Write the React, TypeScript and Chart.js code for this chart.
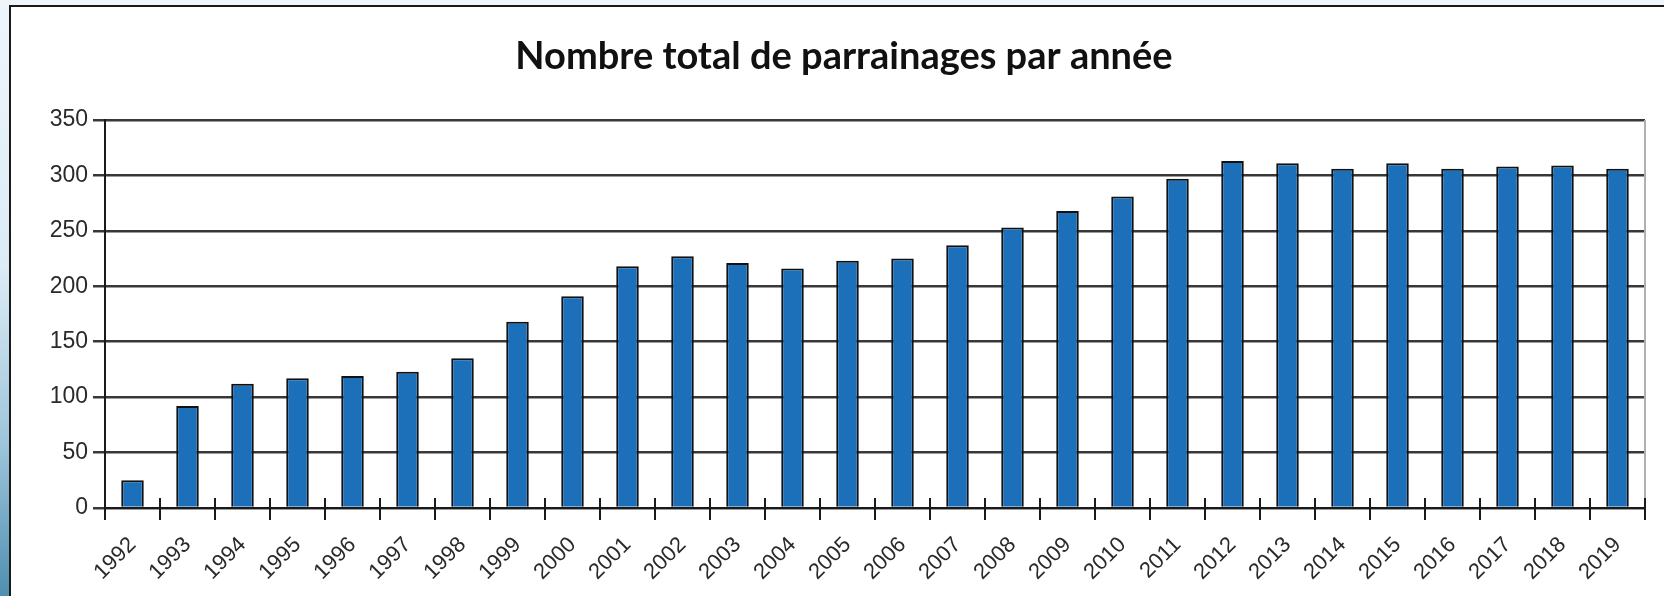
import React, { useEffect, useRef } from "react";
import { Chart, registerables } from "chart.js";

Chart.register(...registerables);

const years = [
  "1992", "1993", "1994", "1995", "1996", "1997", "1998", "1999", "2000", "2001",
  "2002", "2003", "2004", "2005", "2006", "2007", "2008", "2009", "2010", "2011",
  "2012", "2013", "2014", "2015", "2016", "2017", "2018", "2019",
];
const parrainages = [
  25, 92, 112, 117, 119, 123, 135, 168, 191, 218,
  227, 221, 216, 223, 225, 237, 253, 268, 281, 297,
  313, 311, 306, 311, 306, 308, 309, 306,
];
const titleText = "Nombre total de parrainages par année";
const yMin = 0;
const yMax = 350;
const yStep = 50;

const decorPlugin = {
  id: "decor",
  afterDraw(chart: any) {
    const ctx = chart.ctx;
    const a = chart.chartArea;
    const xs = chart.scales.x;
    ctx.save();
    // right light border of plot
    ctx.strokeStyle = "#b0b0b0";
    ctx.lineWidth = 2;
    ctx.beginPath();
    ctx.moveTo(a.right, a.top);
    ctx.lineTo(a.right, a.bottom);
    ctx.stroke();
    // category tick marks crossing the axis
    const p0 = xs.getPixelForValue(0);
    const p1 = xs.getPixelForValue(1);
    const w = p1 - p0;
    ctx.strokeStyle = "#1a1a1a";
    ctx.lineWidth = 2;
    for (let i = 0; i <= years.length; i++) {
      const px = Math.round(p0 + (i - 0.5) * w);
      ctx.beginPath();
      ctx.moveTo(px, a.bottom - 10);
      ctx.lineTo(px, a.bottom + 12);
      ctx.stroke();
    }
    // title
    ctx.fillStyle = "#111";
    ctx.font = "bold 38px Lato";
    ctx.textAlign = "center";
    ctx.textBaseline = "middle";
    ctx.fillText(titleText, 844, 57);
    ctx.restore();
  },
};

export default function App() {
  const ref = useRef<HTMLCanvasElement>(null);
  useEffect(() => {
    if (!ref.current) return;
    const chart = new Chart(ref.current, {
      type: "bar",
      data: {
        labels: years,
        datasets: [
          {
            data: parrainages,
            backgroundColor: "#1c70ba",
            borderColor: "#111111",
            borderWidth: 2,
            barPercentage: 0.41,
            categoryPercentage: 1,
          },
        ],
      },
      options: {
        animation: false,
        responsive: false,
        maintainAspectRatio: false,
        layout: { padding: { top: 120, left: 0, right: 19, bottom: 0 } },
        plugins: {
          legend: { display: false },
          title: { display: false },
          tooltip: { enabled: false },
        },
        scales: {
          x: {
            afterFit: (s: any) => {
              s.height = 88;
            },
            grid: { display: true, drawOnChartArea: false, drawTicks: false, offset: true },
            border: { display: true, color: "#1a1a1a", width: 2 },
            ticks: {
              minRotation: 45,
              maxRotation: 45,
              autoSkip: false,
              padding: 24,
              color: "#2a2a2a",
              font: { family: "Liberation Sans", size: 22 },
            },
          },
          y: {
            min: yMin,
            max: yMax,
            afterFit: (s: any) => {
              s.width = 105;
            },
            grid: { color: "#383838", lineWidth: 2.5, tickLength: 12, drawTicks: true },
            border: { display: true, color: "#1a1a1a", width: 2 },
            ticks: {
              stepSize: yStep,
              padding: 5,
              color: "#2a2a2a",
              font: { family: "Liberation Sans", size: 23 },
            },
          },
        },
      },
      plugins: [decorPlugin],
    });
    return () => chart.destroy();
  }, []);

  return (
    <div
      style={{
        position: "fixed",
        left: 0,
        top: 0,
        width: 1664,
        height: 596,
        overflow: "hidden",
        background: "linear-gradient(to bottom, #eef6fc 0%, #dcebf5 45%, #9cc4da 75%, #4f8fb0 100%)",
      }}
    >
      <div
        style={{
          position: "absolute",
          left: 9,
          top: 5,
          width: 1700,
          height: 700,
          background: "#ffffff",
          border: "2px solid #1a1a1a",
          boxSizing: "border-box",
        }}
      />
      <canvas
        ref={ref}
        width={1664}
        height={596}
        style={{ position: "absolute", left: 0, top: 0, width: 1664, height: 596 }}
      />
    </div>
  );
}
